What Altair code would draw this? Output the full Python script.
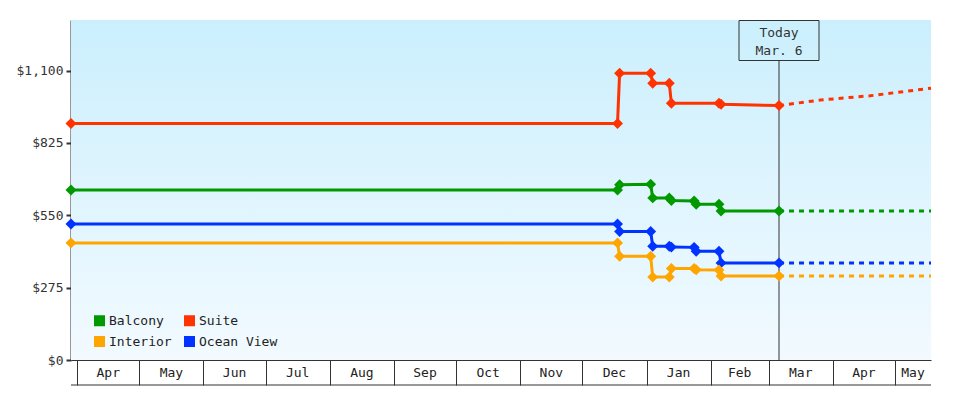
import altair as alt
import pandas as pd

MONO = "DejaVu Sans Mono"
INK = "#333333"

# ---- series definitions (legend fills column by column) ------------------
series_names = ["Balcony", "Interior", "Suite", "Ocean View"]
series_colors = ["#009900", "#ffa500", "#ff3300", "#0033ff"]

suite_dates = ["2022-03-29", "2022-12-18", "2022-12-19", "2023-01-03", "2023-01-04",
               "2023-01-12", "2023-01-13", "2023-02-05", "2023-02-06", "2023-03-06"]
suite_prices = [899, 899, 1090, 1090, 1052, 1052, 976, 976, 972, 967]

other_dates = ["2022-03-29", "2022-12-18", "2022-12-19", "2023-01-03", "2023-01-04",
               "2023-01-12", "2023-01-13", "2023-01-24", "2023-01-25", "2023-02-05",
               "2023-02-06", "2023-03-06"]
balcony_prices = [646, 646, 666, 668, 616, 616, 606, 604, 592, 592, 566, 566]
ocean_prices = [517, 517, 488, 488, 432, 432, 429, 428, 413, 413, 369, 369]
interior_prices = [445, 445, 394, 394, 315, 315, 348, 348, 343, 342, 319, 319]

# forecast (dotted)
suite_fc_dates = ["2023-03-06", "2023-03-26", "2023-04-19", "2023-05-18T10:00:00"]
suite_fc_prices = [967, 988, 1004, 1033]
flat_fc_dates = ["2023-03-06", "2023-05-18T10:00:00"]
balcony_fc_prices = [566, 566]
ocean_fc_prices = [369, 369]
interior_fc_prices = [319, 319]

# ---- axis texts ---------------------------------------------------------
y_ticks = [0, 275, 550, 825, 1100]
month_starts = ["2022-04-01", "2022-05-01", "2022-06-01", "2022-07-01", "2022-08-01",
                "2022-09-01", "2022-10-01", "2022-11-01", "2022-12-01", "2023-01-01",
                "2023-02-01", "2023-03-01", "2023-04-01", "2023-05-01"]
month_labels = ["Apr", "May", "Jun", "Jul", "Aug", "Sep", "Oct", "Nov", "Dec",
                "Jan", "Feb", "Mar", "Apr", "May"]
month_label_dates = ["2022-04-16", "2022-05-16T12:00:00", "2022-06-16", "2022-07-16T12:00:00",
                     "2022-08-16T12:00:00", "2022-09-16", "2022-10-16T12:00:00", "2022-11-16",
                     "2022-12-16T12:00:00", "2023-01-16T12:00:00", "2023-02-15",
                     "2023-03-16T12:00:00", "2023-04-16", "2023-05-09T17:00:00"]
today_date = "2023-03-06"
today_text = "Today\nMar. 6"
x_start = "2022-03-29"
x_end = "2023-05-18T10:00:00"


def ts(s):
    return s if "T" in s else s + "T00:00:00"


def dt(s):
    s = ts(s)
    return alt.DateTime(year=int(s[0:4]), month=int(s[5:7]), date=int(s[8:10]),
                        hours=int(s[11:13]))


hist_rows = []
for name, dates, prices in [("Suite", suite_dates, suite_prices),
                            ("Balcony", other_dates, balcony_prices),
                            ("Ocean View", other_dates, ocean_prices),
                            ("Interior", other_dates, interior_prices)]:
    for d, p in zip(dates, prices):
        hist_rows.append({"series": name, "date": ts(d), "price": p})
hist = pd.DataFrame(hist_rows)

fc_rows = []
for name, dates, prices in [("Suite", suite_fc_dates, suite_fc_prices),
                            ("Balcony", flat_fc_dates, balcony_fc_prices),
                            ("Ocean View", flat_fc_dates, ocean_fc_prices),
                            ("Interior", flat_fc_dates, interior_fc_prices)]:
    for d, p in zip(dates, prices):
        fc_rows.append({"series": name, "date": ts(d), "price": p})
fc = pd.DataFrame(fc_rows)

months = pd.DataFrame({"date": [ts(d) for d in month_label_dates], "label": month_labels})
today = pd.DataFrame({"date": [ts(today_date)], "label": [today_text]})
baseline = pd.DataFrame({"date": [ts(x_start)], "date2": [ts(x_end)]})

x_scale = alt.Scale(domain=[dt(x_start), dt(x_end)])
x_axis = alt.Axis(values=[dt(d) for d in month_starts], labels=False, tickSize=25,
                  tickColor=INK, tickWidth=1, domainColor=INK, domainWidth=1,
                  grid=False, title=None)
x_enc = alt.X("date:T", scale=x_scale, axis=x_axis)

y_enc = alt.Y("price:Q", scale=alt.Scale(domain=[0, 1292], nice=False),
              axis=alt.Axis(values=y_ticks, format="$,.0f", labelFont=MONO, labelFontSize=13,
                            labelColor=INK, tickSize=5, tickWidth=2, tickColor=INK,
                            domainColor=INK, domainWidth=2, labelPadding=3, grid=False,
                            title=None))

legend = alt.Legend(orient="none", legendX=22, legendY=294, columns=2,
                    title=None, symbolType="square", symbolSize=121,
                    symbolStrokeWidth=0, symbolOpacity=1, labelFont=MONO, labelFontSize=13,
                    labelColor="#222222", columnPadding=11, rowPadding=7,
                    labelOffset=3, padding=0)
color_scale = alt.Scale(domain=series_names, range=series_colors)
color_enc = alt.Color("series:N", scale=color_scale, legend=legend)

bg = alt.Chart(baseline).mark_rect(
    color=alt.LinearGradient(gradient="linear",
                             stops=[alt.GradientStop(color="#cbeffd", offset=0),
                                    alt.GradientStop(color="#f2faff", offset=1)],
                             x1=0, x2=0, y1=0, y2=1)
).encode(x=alt.value(0), x2=alt.value(860), y=alt.value(0), y2=alt.value(340))

lines_hist = alt.Chart(hist).mark_line(strokeWidth=3).encode(x=x_enc, y=y_enc, color=color_enc)
lines_fc = alt.Chart(fc).mark_line(strokeWidth=3, strokeDash=[5, 5]).encode(
    x=x_enc, y=y_enc, color=color_enc)
today_rule = alt.Chart(today).mark_rule(color=INK, strokeWidth=1).encode(
    x=x_enc, y=alt.value(40), y2=alt.value(340))
points = alt.Chart(hist).mark_point(shape="diamond", filled=True, size=120, opacity=1).encode(
    x=x_enc, y=y_enc, color=color_enc)
today_box = alt.Chart(today).mark_rect(fillOpacity=0, stroke=INK, strokeWidth=1,
                                       xOffset=-40, x2Offset=40).encode(
    x=x_enc, x2="date:T", y=alt.value(0.5), y2=alt.value(40.5))
today_label = alt.Chart(today).mark_text(font=MONO, fontSize=13, color=INK, lineBreak="\n",
                                         lineHeight=18, baseline="middle").encode(
    x=x_enc, y=alt.value(12.5), text="label:N")
bottom_line = alt.Chart(baseline).mark_rule(color=INK, strokeWidth=1).encode(
    x=x_enc, x2="date2:T", y=alt.value(365))
month_text = alt.Chart(months).mark_text(font=MONO, fontSize=13, color="#222222",
                                         baseline="middle").encode(
    x=x_enc, y=alt.value(353), text="label:N")

chart = alt.layer(
    bg, lines_hist, lines_fc, today_rule, points, today_box, today_label, bottom_line, month_text
).properties(
    width=860, height=340,
    autosize=alt.AutoSizeParams(type="none"),
    padding={"left": 63, "top": 12, "right": 41, "bottom": 26},
).configure_view(
    stroke="transparent",
)

chart.save("out.html", embed_options={"renderer": "svg", "actions": False})
